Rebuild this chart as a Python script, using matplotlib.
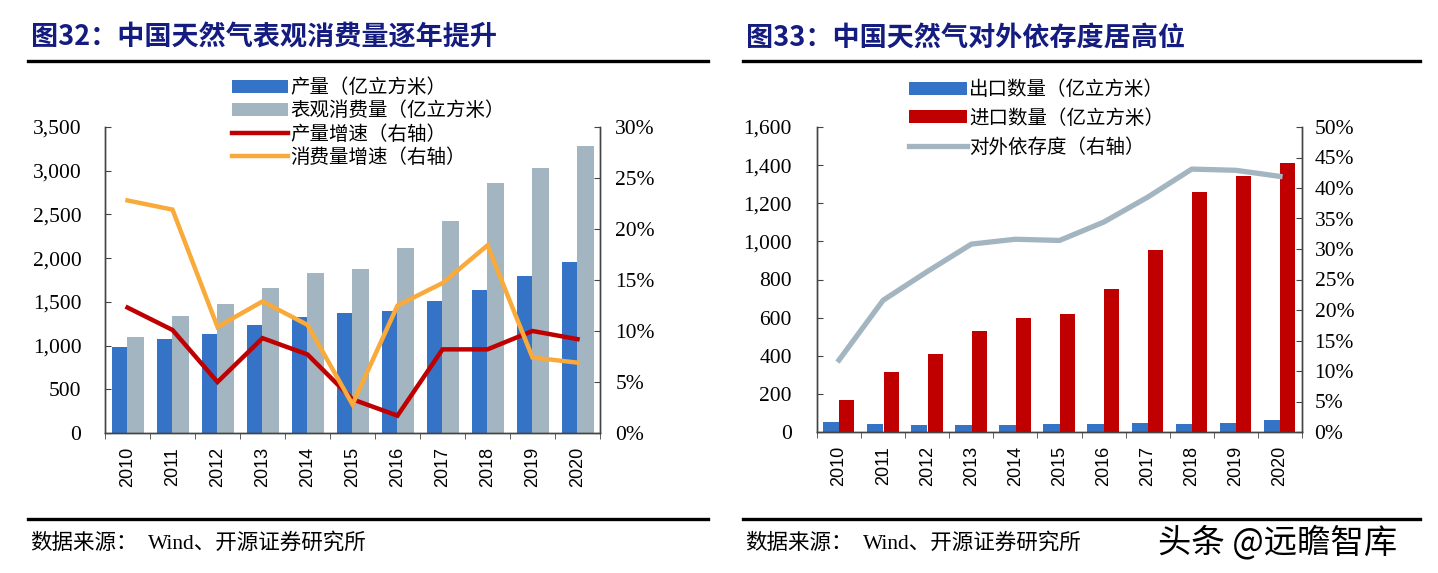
import numpy as np
import matplotlib
matplotlib.use("Agg")
import matplotlib.pyplot as plt
from matplotlib.lines import Line2D
from matplotlib.ticker import FuncFormatter, MultipleLocator, FixedLocator

plt.rcParams['font.family'] = ['Noto Sans CJK SC', 'DejaVu Sans']

# ----------------------------------------------------------------------
# DATA
# ----------------------------------------------------------------------
years = ["2010", "2011", "2012", "2013", "2014", "2015",
         "2016", "2017", "2018", "2019", "2020"]

# left chart: 产量 / 表观消费量 (亿立方米), growth rates (%)
production = [984, 1080, 1137, 1232, 1327, 1377, 1396, 1506, 1632, 1793, 1953]
consumption = [1098, 1335, 1472, 1659, 1830, 1881, 2117, 2422, 2860, 3036, 3280]
prod_growth = [12.3, 10.1, 5.0, 9.3, 7.7, 3.3, 1.7, 8.2, 8.2, 10.0, 9.2]
cons_growth = [22.8, 21.9, 10.4, 12.9, 10.6, 2.8, 12.5, 14.7, 18.4, 7.4, 6.9]

# right chart: 出口 / 进口 (亿立方米), 对外依存度 (%)
exports = [50, 40, 37, 37, 35, 42, 42, 45, 42, 47, 63]
imports = [166, 314, 408, 529, 597, 618, 752, 955, 1257, 1344, 1412]
dependency = [11.8, 21.6, 26.3, 30.8, 31.6, 31.4, 34.4, 38.5, 43.1, 42.9, 41.9]

# ----------------------------------------------------------------------
# STYLE
# ----------------------------------------------------------------------
W, H = 1438, 573
TITLE_COLOR = "#141c80"
BLUE = "#3473c5"
GRAY = "#a3b5c0"
RED = "#c00000"
ORANGE = "#f9aa3a"
SPINE = "#444444"
NUM_FONT = "Liberation Serif"


def px_axes(fig, x0, x1, ytop, ybot):
    return fig.add_axes([x0 / W, (H - ybot) / H, (x1 - x0) / W, (ybot - ytop) / H])


def style_axes(ax, ax2, lpad, rpad):
    for a in (ax, ax2):
        a.spines['top'].set_visible(False)
        for s in ('left', 'right', 'bottom'):
            a.spines[s].set_color(SPINE)
            a.spines[s].set_linewidth(1.0)
    ax.tick_params(axis='y', direction='in', length=4, pad=lpad, color=SPINE,
                   labelsize=15.5)
    ax2.tick_params(axis='y', direction='in', length=4, pad=rpad, color=SPINE,
                    labelsize=15.5)
    for lab in ax.get_yticklabels() + ax2.get_yticklabels():
        lab.set_family(NUM_FONT)
    x = np.arange(len(years))
    ax.set_xlim(-0.5, len(years) - 0.5)
    ax.set_xticks(x)
    ax.set_xticklabels(years, rotation=90, family="Liberation Sans", fontsize=13)
    ax.tick_params(axis='x', which='major', length=0, pad=10)
    ax.xaxis.set_minor_locator(FixedLocator(np.arange(-0.5, len(years), 1.0)))
    ax.tick_params(axis='x', which='minor', direction='out', length=4, color=SPINE)


def frame(fig, x0, x1, title):
    fig.text(x0 / W + 0.002, 1 - 38 / H, title, fontsize=19.5, weight='bold',
             color=TITLE_COLOR, va='center', ha='left')
    fig.add_artist(Line2D([x0 / W, x1 / W], [1 - 61 / H] * 2, color='black', lw=2.4))
    fig.add_artist(Line2D([x0 / W, x1 / W], [1 - 519 / H] * 2, color='black', lw=2.4))
    fig.text((x0 + 2) / W, 1 - 543 / H, "数据来源：", fontsize=15.5,
             va='center', ha='left')
    fig.text((x0 + 120) / W, 1 - 543 / H, "Wind、开源证券研究所", fontsize=15.5,
             va='center', ha='left', family=[NUM_FONT, 'Noto Sans CJK SC'])


fig = plt.figure(figsize=(W / 100, H / 100), dpi=100)
x = np.arange(len(years))

# ----------------------------------------------------------------------
# LEFT CHART
# ----------------------------------------------------------------------
axL = px_axes(fig, 105, 600, 127, 433)
axL2 = axL.twinx()
b1 = axL.bar(x - 0.17, production, width=0.36, color=BLUE, zorder=2)
b2 = axL.bar(x + 0.18, consumption, width=0.37, color=GRAY, zorder=2)
l1, = axL2.plot(x, prod_growth, color=RED, lw=3.2, solid_joinstyle='miter')
l2, = axL2.plot(x, cons_growth, color=ORANGE, lw=3.2, solid_joinstyle='miter')
axL.set_ylim(0, 3500)
axL.yaxis.set_major_locator(MultipleLocator(500))
axL.yaxis.set_major_formatter(FuncFormatter(lambda v, p: f"{int(v):,}"))
axL2.set_ylim(0, 30)
axL2.yaxis.set_major_locator(MultipleLocator(5))
axL2.yaxis.set_major_formatter(FuncFormatter(lambda v, p: f"{int(v)}%"))
style_axes(axL, axL2, lpad=17, rpad=11)
axL.legend([b1, b2, l1, l2],
           ["产量（亿立方米）", "表观消费量（亿立方米）", "产量增速（右轴）", "消费量增速（右轴）"],
           loc='upper left', bbox_to_anchor=(232 / W, 1 - 77 / H),
           bbox_transform=fig.transFigure, frameon=False, fontsize=14,
           handlelength=2.9, handleheight=0.65, handletextpad=0.1,
           labelspacing=0.12, borderpad=0, borderaxespad=0)
frame(fig, 28, 708, "图32：中国天然气表观消费量逐年提升")

# ----------------------------------------------------------------------
# RIGHT CHART
# ----------------------------------------------------------------------
axR = px_axes(fig, 817, 1302, 127, 432)
axR2 = axR.twinx()
b3 = axR.bar(x - 0.18, exports, width=0.37, color=BLUE, zorder=2)
b4 = axR.bar(x + 0.18, imports, width=0.34, color=RED, zorder=2)
l3, = axR2.plot(x, dependency, color=GRAY, lw=3.8)
axR.set_ylim(0, 1600)
axR.yaxis.set_major_locator(MultipleLocator(200))
axR.yaxis.set_major_formatter(FuncFormatter(lambda v, p: f"{int(v):,}"))
axR2.set_ylim(0, 50)
axR2.yaxis.set_major_locator(MultipleLocator(5))
axR2.yaxis.set_major_formatter(FuncFormatter(lambda v, p: f"{int(v)}%"))
style_axes(axR, axR2, lpad=18, rpad=9)
axR.legend([b3, b4, l3],
           ["出口数量（亿立方米）", "进口数量（亿立方米）", "对外依存度（右轴）"],
           loc='upper left', bbox_to_anchor=(909 / W, 1 - 79 / H),
           bbox_transform=fig.transFigure, frameon=False, fontsize=14,
           handlelength=3.0, handleheight=0.65, handletextpad=0.1,
           labelspacing=0.4, borderpad=0, borderaxespad=0)
frame(fig, 743, 1420, "图33：中国天然气对外依存度居高位")

# watermark
fig.text(1158 / W, 1 - 543 / H, "头条 @远瞻智库", fontsize=24, color='black',
         va='center', ha='left')

fig.savefig("out.png", dpi=100)
